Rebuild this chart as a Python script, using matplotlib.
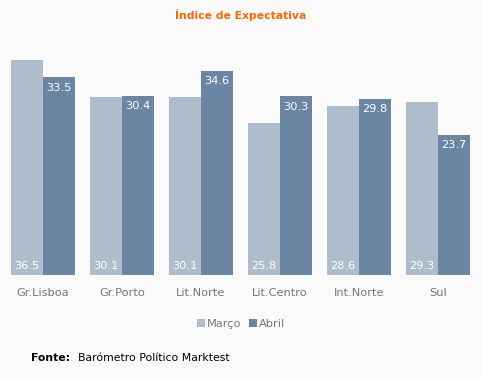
import numpy as np
import matplotlib.pyplot as plt

regioes = ['Gr.Lisboa', 'Gr.Porto', 'Lit.Norte', 'Lit.Centro', 'Int.Norte', 'Sul']
marco = [36.5, 30.1, 30.1, 25.8, 28.6, 29.3]
abril = [33.5, 30.4, 34.6, 30.3, 29.8, 23.7]

cor_marco = '#afbccc'
cor_abril = '#6a86a3'
fundo = '#fafafa'

plt.rcParams['font.family'] = ['DejaVu Sans']

fig = plt.figure(figsize=(4.82, 3.77), dpi=100, facecolor=fundo)
# axes: x from 3.5 to 477.5 px, y bottom at 275 px, top at 39 px
ax = fig.add_axes([3.5 / 482, (377 - 275) / 377, 474 / 482, 236 / 377])
ax.set_facecolor(fundo)

x = np.arange(len(regioes))
w = 32 / 79
ax.bar(x - w / 2, marco, w, color=cor_marco, label='Março')
ax.bar(x + w / 2, abril, w, color=cor_abril, label='Abril')

for i in range(len(regioes)):
    ax.text(x[i] - w / 2, 0.6, f'{marco[i]:.1f}', ha='center', va='bottom',
            color='white', fontsize=8.2)
    ax.text(x[i] + w / 2, abril[i] - 0.9, f'{abril[i]:.1f}', ha='center', va='top',
            color='white', fontsize=8.2)

ax.set_xlim(-0.5, len(regioes) - 0.5)
ax.set_ylim(0, 40)
ax.set_xticks(x)
ax.set_xticklabels(regioes, color='#777777', fontsize=8.2)
ax.tick_params(axis='x', length=0, pad=9)
ax.set_yticks([])
for s in ax.spines.values():
    s.set_visible(False)

fig.text(0.5, 1 - 15 / 377, 'Índice de Expectativa', ha='center', va='center',
         color='#ff6600', fontsize=7.8, fontweight='bold')

leg = fig.legend(loc='center', bbox_to_anchor=(0.5, 1 - 324 / 377), ncol=2,
                 frameon=False, fontsize=8.2, handlelength=0.7, handleheight=0.7,
                 handletextpad=0.2, columnspacing=0.6, labelcolor='#777777')

fig.text(31 / 482, 1 - 358 / 377, 'Fonte:', ha='left', va='center',
         fontsize=7.8, fontweight='bold', color='black')
fig.text(78 / 482, 1 - 358 / 377, 'Barómetro Político Marktest', ha='left', va='center',
         fontsize=7.8, color='black')

fig.savefig('out.png', dpi=100, facecolor=fundo)
